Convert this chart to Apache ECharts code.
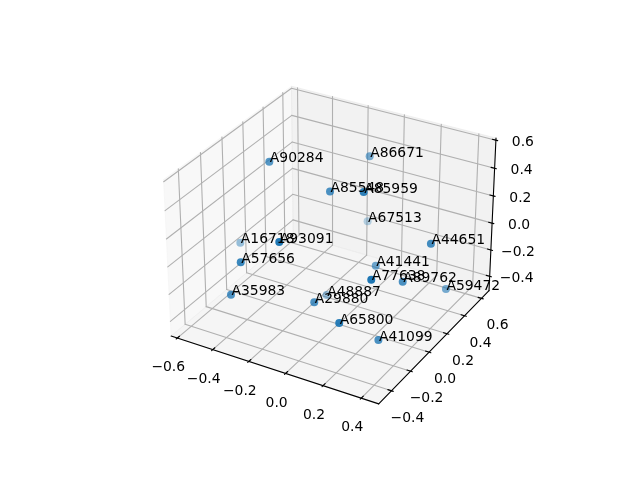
<!DOCTYPE html>
<html>
<head>
<meta charset="utf-8">
<script src="https://cdn.jsdelivr.net/npm/echarts@6/dist/echarts.min.js"></script>
<style>html,body{margin:0;padding:0;background:#fff}#main{width:640px;height:480px}</style>
</head>
<body>
<div id="main"></div>
<script>
var names = ['A90284','A86671','A85548','A85959','A67513','A44651','A16718','A93091','A57656','A35983','A29880','A48887','A41441','A77638','A89762','A59472','A65800','A41099'];
var xs = [-0.353,-0.050,-0.041,0.176,-0.168,0.444,-0.586,-0.050,-0.260,-0.322,0.024,-0.164,0.136,0.348,0.354,0.423,0.241,0.324];
var ys = [-0.036,0.417,-0.009,-0.086,0.634,0.085,0.064,-0.483,-0.480,-0.474,-0.289,0.185,0.127,-0.339,-0.023,0.317,-0.448,-0.210];
var zs = [0.558,0.449,0.446,0.567,-0.2015,0.204,-0.175,0.376,0.150,-0.111,-0.1445,-0.4805,-0.102,0.180,-0.0345,-0.281,-0.097,-0.346];
var xTicks = [-0.6,-0.4,-0.2,0,0.2,0.4];
var yTicks = [-0.4,-0.2,0,0.2,0.4,0.6];
var zTicks = [-0.4,-0.2,0,0.2,0.4,0.6];
var xLim = [-0.635,0.49], yLim = [-0.53,0.69], zLim = [-0.51,0.615];

// same camera as a default mplot3d axes: elev 30, azim -60, dist 10, box 4:4:3
var k = 1.8294640721620434*25/24/Math.sqrt(41);
var box = [4*k,4*k,3*k];
var el = 30*Math.PI/180, az = -60*Math.PI/180;
var w = [Math.cos(el)*Math.cos(az),Math.cos(el)*Math.sin(az),Math.sin(el)];
var u = [-Math.sin(az),Math.cos(az),0];
var v = [-Math.sin(el)*Math.cos(az),-Math.sin(el)*Math.sin(az),Math.cos(el)];
var eye = [box[0]/2+10*w[0],box[1]/2+10*w[1],box[2]/2+10*w[2]];
function dot(a,b){return a[0]*b[0]+a[1]*b[1]+a[2]*b[2];}
function project(x,y,z){
  var d=[(x-xLim[0])/(xLim[1]-xLim[0])*box[0]-eye[0],(y-yLim[0])/(yLim[1]-yLim[0])*box[1]-eye[1],(z-zLim[0])/(zLim[1]-zLim[0])*box[2]-eye[2]];
  var zv=dot(w,d);
  var X=dot(u,d)/-zv, Y=dot(v,d)/-zv;
  return [143.2+(X+.095)/.185*369.6, 480-(52.8+(Y+.095)/.185*369.6), -zv];
}
var seg = function(a,b){var p=project(a[0],a[1],a[2]),q=project(b[0],b[1],b[2]);return [p[0],p[1],q[0],q[1]];};
var x0=xLim[0],x1=xLim[1],y0=yLim[0],y1=yLim[1],z0=zLim[0],z1=zLim[1];
function lineSeries(name,segs,color,width){
  return {name:name,type:'custom',silent:true,data:segs,renderItem:function(p,api){
    var a=api.coord([api.value(0),api.value(1)]),b=api.coord([api.value(2),api.value(3)]);
    return {type:'line',shape:{x1:a[0],y1:a[1],x2:b[0],y2:b[1]},style:{stroke:color,lineWidth:width,lineCap:'round'}};
  }};
}
function paneSeries(name,corners,color){
  var flat=[];corners.forEach(function(c){var p=project(c[0],c[1],c[2]);flat.push(p[0],p[1]);});
  return {name:name,type:'custom',silent:true,data:[flat],renderItem:function(p,api){
    var pts=[];for(var i=0;i<8;i+=2)pts.push(api.coord([api.value(i),api.value(i+1)]));
    return {type:'polygon',shape:{points:pts},style:{fill:color,stroke:color,lineWidth:1}};
  }};
}
function textSeries(name,items,dx,dy){
  return {name:name,type:'custom',silent:true,data:items,renderItem:function(p,api){
    var a=api.coord([api.value(0),api.value(1)]);
    return {type:'text',style:{x:a[0]+dx,y:a[1]+dy,text:items[p.dataIndex][2],fill:'#000',font:'13.9px "DejaVu Sans"',align:'center',verticalAlign:'middle'}};
  }};
}
function fmt(t){return (t<0?'\u2212':'')+Math.abs(t).toFixed(1);}
var gridSegs=[],tickSegs=[],xLab=[],yLab=[],zLab=[];
var dy=(y1-y0)/12,dx=(x1-x0)/12;
xTicks.forEach(function(t){
  gridSegs.push(seg([t,y0,z0],[t,y1,z0]),seg([t,y1,z0],[t,y1,z1]));
  tickSegs.push(seg([t,y0-.1*dy,z0],[t,y0+.2*dy,z0]));
  var p=project(t,y0,z0);xLab.push([p[0],p[1],fmt(t)]);
});
yTicks.forEach(function(t){
  gridSegs.push(seg([x1,t,z0],[x0,t,z0]),seg([x0,t,z0],[x0,t,z1]));
  tickSegs.push(seg([x1+.1*dx,t,z0],[x1-.2*dx,t,z0]));
  var p=project(x1,t,z0);yLab.push([p[0],p[1],fmt(t)]);
});
zTicks.forEach(function(t){
  gridSegs.push(seg([x0,y0,t],[x0,y1,t]),seg([x0,y1,t],[x1,y1,t]));
  tickSegs.push(seg([x1+.1*dx,y1,t],[x1-.2*dx,y1,t]));
  var p=project(x1,y1,t);zLab.push([p[0],p[1],fmt(t)]);
});
var proj=names.map(function(n,i){return project(xs[i],ys[i],zs[i]);});
var depths=proj.map(function(q){return q[2];});
var dMin=Math.min.apply(null,depths),dMax=Math.max.apply(null,depths);
var scatterData=names.map(function(n,i){
  var q=proj[i];
  return {value:[q[0],q[1]],name:n,itemStyle:{opacity:1-(q[2]-dMin)/(dMax-dMin)*.7},label:{opacity:1}};
});
var chart=echarts.init(document.getElementById('main'));
chart.setOption({
  animation:false,
  backgroundColor:'#fff',
  grid:{left:0,right:0,top:0,bottom:0},
  xAxis:{type:'value',min:0,max:640,show:false},
  yAxis:{type:'value',min:0,max:480,inverse:true,show:false},
  series:[
    paneSeries('xPane',[[x0,y0,z0],[x0,y1,z0],[x0,y1,z1],[x0,y0,z1]],'rgba(242,242,242,0.5)'),
    paneSeries('yPane',[[x0,y1,z0],[x1,y1,z0],[x1,y1,z1],[x0,y1,z1]],'rgba(230,230,230,0.5)'),
    paneSeries('zPane',[[x0,y0,z0],[x1,y0,z0],[x1,y1,z0],[x0,y1,z0]],'rgba(236,236,236,0.5)'),
    lineSeries('grid',gridSegs,'#b0b0b0',1.1),
    lineSeries('axes',[seg([x0,y0,z0],[x1,y0,z0]),seg([x1,y0,z0],[x1,y1,z0]),seg([x1,y1,z0],[x1,y1,z1])],'#000',1.1),
    lineSeries('ticks',tickSegs,'#000',1.1),
    textSeries('xLabels',xLab,-9,29.5),
    textSeries('yLabels',yLab,16,27.5),
    textSeries('zLabels',zLab,27,2.5),
    {name:'points',type:'scatter',symbolSize:8,silent:true,data:scatterData,itemStyle:{color:'#1f77b4'},
     label:{show:true,position:'right',distance:-3.5,offset:[0,-3],formatter:'{b}',color:'#000',fontFamily:'DejaVu Sans',fontSize:13.9}}
  ]
});
</script>
</body>
</html>
